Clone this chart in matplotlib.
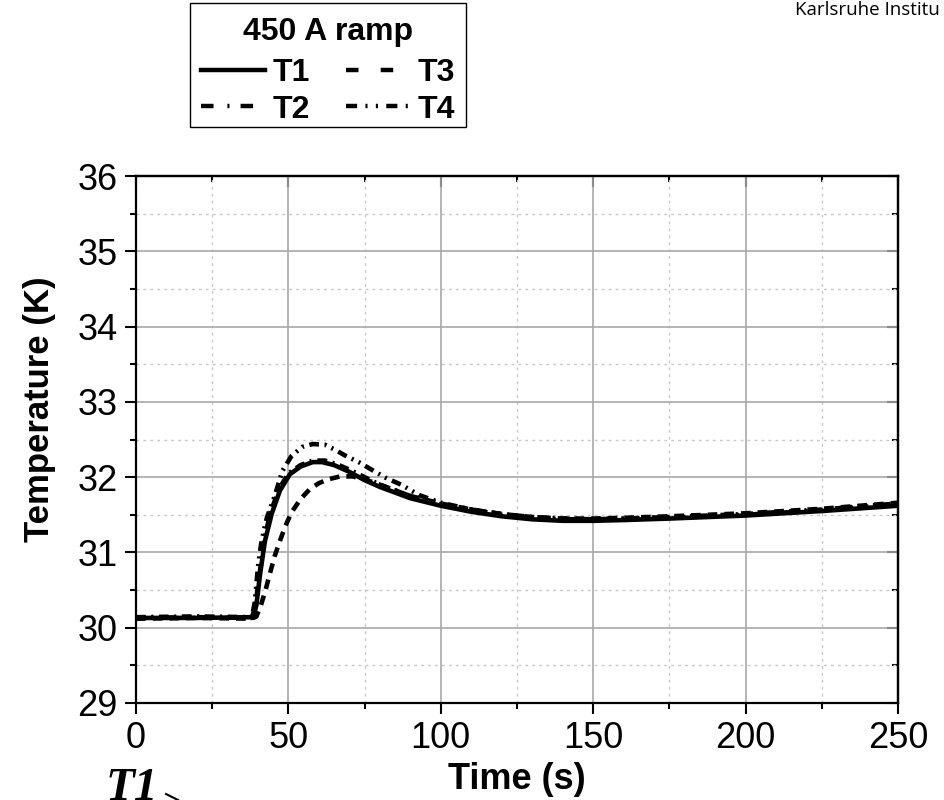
import matplotlib.pyplot as plt
from matplotlib.lines import Line2D
from matplotlib.patches import Rectangle

plt.rcParams['font.family'] = ['Liberation Sans', 'DejaVu Sans']
plt.rcParams['lines.scale_dashes'] = False

# --- data ---
t1_time = [0, 20, 38.5, 39.5, 40.7, 42.3, 44.5, 47.2, 50.5, 54, 58, 61, 65, 70, 75,
           80, 90, 100, 110, 120, 130, 140, 150, 160, 175, 200, 225, 250]
t1_temp = [30.13, 30.13, 30.14, 30.3, 30.71, 31.15, 31.51, 31.82, 32.04, 32.14, 32.2, 32.2,
           32.16, 32.07, 31.96, 31.87, 31.72, 31.62, 31.54, 31.48, 31.44, 31.42, 31.42,
           31.43, 31.45, 31.49, 31.55, 31.62]

t2_time = [0, 20, 38, 39, 40.5, 42, 44, 47, 50, 54, 58, 62, 66, 70, 75, 80, 90, 100,
           110, 120, 130, 140, 150, 160, 175, 200, 225, 250]
t2_temp = [30.14, 30.15, 30.14, 30.25, 30.7, 31.15, 31.52, 31.85, 32.05, 32.16, 32.22,
           32.22, 32.17, 32.1, 32.0, 31.9, 31.75, 31.64, 31.57, 31.51, 31.47, 31.45, 31.44,
           31.45, 31.47, 31.51, 31.57, 31.65]

t3_time = [0, 20, 38, 39.5, 41, 42.5, 44, 45.5, 47, 49, 51, 54, 57, 60, 63, 67, 71, 75,
           80, 90, 100, 110, 120, 130, 140, 150, 160, 175, 200, 225, 250]
t3_temp = [30.12, 30.13, 30.12, 30.15, 30.3, 30.5, 30.73, 30.95, 31.13, 31.35, 31.53,
           31.71, 31.84, 31.92, 31.97, 32.01, 32.01, 31.97, 31.9, 31.75, 31.65, 31.57,
           31.51, 31.47, 31.45, 31.45, 31.46, 31.48, 31.52, 31.58, 31.66]

t4_time = [0, 20, 38, 39, 40, 41, 42, 43, 45.5, 48, 51, 54.5, 58, 62, 65, 68.5, 73.5,
           78.5, 82, 87, 93, 100, 110, 120, 130, 140, 150, 175, 200, 225, 250]
t4_temp = [30.13, 30.14, 30.13, 30.35, 30.8, 31.1, 31.3, 31.47, 31.75, 32.08, 32.28, 32.4,
           32.44, 32.43, 32.37, 32.29, 32.19, 32.07, 31.99, 31.9, 31.76, 31.66, 31.57, 31.5,
           31.46, 31.44, 31.44, 31.46, 31.5, 31.56, 31.64]

x_ticks = [0, 50, 100, 150, 200, 250]
x_minor = [25, 75, 125, 175, 225]
y_ticks = [29, 30, 31, 32, 33, 34, 35, 36]
y_minor = [29.5, 30.5, 31.5, 32.5, 33.5, 34.5, 35.5]

fig = plt.figure(figsize=(9.45, 8), dpi=100)
ax = fig.add_axes([136 / 945, 97 / 800, 762 / 945, 527 / 800])

lw = 3.3
l3, = ax.plot(t3_time, t3_temp, color='black', lw=lw, ls=(0, (7, 5)), label='T3')
l2, = ax.plot(t2_time, t2_temp, color='black', lw=lw, ls=(0, (7, 4, 1.5, 4)), label='T2')
l4, = ax.plot(t4_time, t4_temp, color='black', lw=lw, ls=(0, (7, 4, 1.5, 4, 1.5, 4)), label='T4')
l1, = ax.plot(t1_time, t1_temp, color='black', lw=lw, ls='-', label='T1')

ax.set_xlim(0, 250)
ax.set_ylim(29, 36)
ax.set_xticks(x_ticks)
ax.set_yticks(y_ticks)
ax.set_xticks(x_minor, minor=True)
ax.set_yticks(y_minor, minor=True)

ax.grid(which='major', color='#a8a8a8', lw=1.2, ls='-')
ax.grid(which='minor', color='#c8c8c8', lw=1.0, ls=(0, (2, 3)))
ax.set_axisbelow(True)

for s in ax.spines.values():
    s.set_linewidth(1.6)

ax.tick_params(which='major', direction='out', length=8, width=1.5, labelsize=26, pad=5)
ax.tick_params(which='minor', direction='out', length=4, width=1.5)
ax.tick_params(axis='x', pad=5)

# inward ticks on top and right
ax_r = ax.secondary_yaxis('right')
ax_r.set_yticks(y_ticks)
ax_r.set_yticks(y_minor, minor=True)
ax_r.tick_params(which='major', direction='in', length=8, width=1.5, labelright=False)
ax_r.tick_params(which='minor', direction='in', length=4, width=1.5)
ax_r.spines['right'].set_linewidth(1.6)
ax_t = ax.secondary_xaxis('top')
ax_t.set_xticks(x_ticks)
ax_t.set_xticks(x_minor, minor=True)
ax_t.tick_params(which='major', direction='in', length=8, width=1.5, labeltop=False)
ax_t.tick_params(which='minor', direction='in', length=4, width=1.5)
ax_t.spines['top'].set_linewidth(1.6)

ax.set_xlabel('Time (s)', fontsize=26, fontweight='bold', labelpad=4)
ax.set_ylabel('Temperature (K)', fontsize=25, fontweight='bold')
ax.yaxis.set_label_coords(-0.105, 0.558)

# legend (proxy handles with the longer legend dashes)
h1 = Line2D([], [], color='black', lw=3.2, ls='-')
h2 = Line2D([], [], color='black', lw=3.2, ls=(0, (9, 10, 1.5, 8)))
h3 = Line2D([], [], color='black', lw=3.2, ls=(0, (9, 16)))
h4 = Line2D([], [], color='black', lw=3.2, ls=(0, (8, 6, 1.5, 6, 1.5, 6)))
leg = fig.legend([h1, h2, h3, h4], ['T1', 'T2', 'T3', 'T4'], title='450 A ramp', ncol=2,
                 loc='upper left', bbox_to_anchor=(190 / 945, 1 - 6 / 800),
                 bbox_transform=fig.transFigure, frameon=False,
                 prop={'weight': 'bold', 'size': 23},
                 title_fontproperties={'weight': 'bold', 'size': 23},
                 handlelength=2.0, handletextpad=0.25, columnspacing=1.1,
                 labelspacing=0.2, borderpad=0.35, borderaxespad=0)
leg._legend_box.sep = 8
fig.add_artist(Rectangle((190 / 945, 1 - 127 / 800), 276 / 945, 124 / 800,
                         transform=fig.transFigure, facecolor='none',
                         edgecolor='black', lw=1.0))

# cut-off annotation and header fragments
fig.text(106 / 945, 1 - 768 / 800, 'T1', family='Liberation Serif', style='italic',
         weight='bold', fontsize=34, va='top', ha='left')
fig.add_artist(Line2D([166 / 945, 178 / 945], [1 - 794 / 800, 1 - 800 / 800],
                      transform=fig.transFigure, color='black', lw=1.5))
fig.text(795 / 945, 1 - 10 / 800, 'Karlsruhe Institu', family='Open Sans',
         fontsize=13.5, va='center', ha='left')

fig.savefig('out.png', dpi=100)
